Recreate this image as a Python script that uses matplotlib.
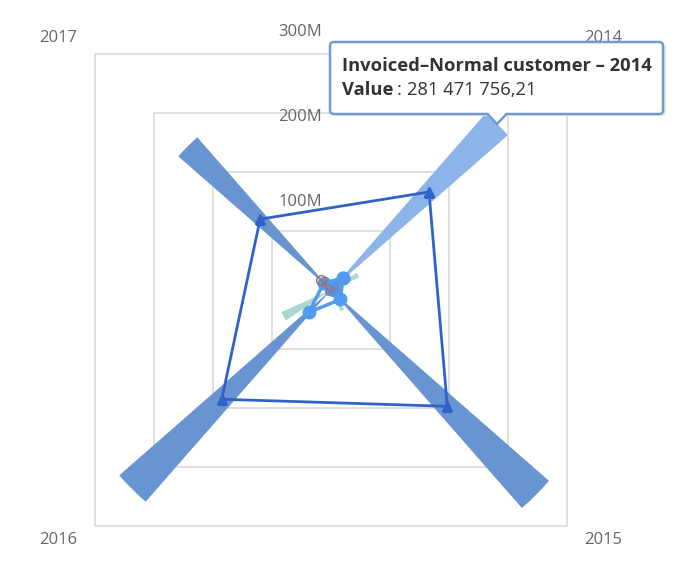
import numpy as np
import matplotlib
matplotlib.use("Agg")
import matplotlib.pyplot as plt
from matplotlib.patches import FancyBboxPatch, Polygon

# categories (clockwise from top-right)
years = ["2014", "2015", "2016", "2017"]
# values in millions
inv_normal = [281.47, 347.0, 337.0, 243.0]
line_dark = [166.0, 197.0, 185.0, 120.0]
col_teal = [37.0, 28.0, 65.0, 4.0]
line_light = [20.0, 16.0, 38.0, 12.0]
area_small = [15.0, 13.0, 8.0, 12.0]
line_red = [3.0, 3.0, 3.0, 17.0]
grid_levels = [100, 200, 300, 400]
axis_labels = ["100M", "200M", "300M"]

plt.rcParams['font.family'] = ['Open Sans', 'DejaVu Sans']

W, H = 684, 577
fig = plt.figure(figsize=(W / 100, H / 100), dpi=100)

# polar axes centred at pixel (331, 290), outer radius 334 px for 400M
cx, cy, R = 331, 290, 334
ax = fig.add_axes([(cx - R) / W, (H - cy - R) / H, 2 * R / W, 2 * R / H],
                  projection='polar')
ax.set_theta_zero_location('N')
ax.set_theta_direction(-1)
ax.set_ylim(0, 400)
ax.grid(False)
ax.set_xticks([])
ax.set_yticks([])
ax.spines['polar'].set_visible(False)
ax.patch.set_visible(False)

theta = np.deg2rad([45, 135, 225, 315])
closed = np.append(theta, theta[0])

# polygon grid
for lv in grid_levels:
    ax.plot(closed, [lv] * 5, color='#d9d9d9', lw=1.2, zorder=1, clip_on=False)

# column series (wedges)
wedge_w = np.deg2rad(7.6)
colors = ['#8db4ea', '#6894d2', '#6894d2', '#6894d2']
ax.bar(theta, inv_normal, width=wedge_w, color=colors, zorder=2, clip_on=False)
ax.bar(theta + np.deg2rad(16), col_teal, width=np.deg2rad(10), color='#a9d6cd',
       zorder=2.5)

# small series near centre
ax.fill(closed, np.append(area_small, area_small[0]), color='#5c90d8',
        zorder=3)
ax.plot(closed, np.append(line_dark, line_dark[0]), color='#2f63c8', lw=2,
        marker='^', markersize=7.5, zorder=4)
ax.plot(closed, np.append(line_light, line_light[0]), color='#4f9cf0', lw=2.5,
        marker='o', markersize=9, zorder=5)
ax.plot(closed, np.append(line_red, line_red[0]), color='#b8664f', lw=0.8,
        marker='o', markersize=7, markerfacecolor='none', markevery=[3],
        zorder=6)

# radial labels
for lv, lab, dy in zip(grid_levels, axis_labels, [5, 6, 7]):
    ax.annotate(lab, xy=(0, lv), xytext=(-31, dy), textcoords='offset pixels',
                ha='center', va='center', fontsize=12, color='#666666',
                annotation_clip=False)

# category labels
offs = [(36, 16), (36, -14), (-37, -14), (-37, 16)]
for t, lab, (ox, oy) in zip(theta, years, offs):
    ax.annotate(lab, xy=(t, 400), xytext=(ox, oy), textcoords='offset pixels',
                ha='center', va='center', fontsize=12, color='#666666',
                annotation_clip=False)

# tooltip overlay
ov = fig.add_axes([0, 0, 1, 1])
ov.set_xlim(0, W)
ov.set_ylim(H, 0)
ov.axis('off')
ov.patch.set_visible(False)
ov.add_patch(FancyBboxPatch((333, 44), 333, 72, boxstyle='round,pad=0,rounding_size=4',
                            facecolor='#e6e6e6', edgecolor='none', zorder=9))
ov.add_patch(FancyBboxPatch((330, 42), 333, 72, boxstyle='round,pad=0,rounding_size=4',
                            facecolor='white', edgecolor='#6f9bd4', lw=1.8, zorder=10))
ov.add_patch(Polygon([(487, 113.5), (497, 124), (507, 113.5)], closed=False,
                     facecolor='white', edgecolor='#6f9bd4', lw=1.8, zorder=10))
ov.add_patch(Polygon([(488, 112), (497, 121), (506, 112)], closed=True,
                     facecolor='white', edgecolor='none', zorder=11))
ov.text(342, 66, "Invoiced\u2013Normal customer \u2013 2014", fontsize=13.2,
        fontweight='bold', color='#333333', va='center', ha='left', zorder=12)
ov.text(342, 90, "Value", fontsize=13.2, fontweight='bold', color='#333333',
        va='center', ha='left', zorder=12)
ov.text(397, 90, ":", fontsize=13.2, color='#333333',
        va='center', ha='left', zorder=12)
ov.text(407, 90, "281 471 756,21", fontsize=13.2, color='#333333',
        va='center', ha='left', zorder=12)

fig.savefig("out.png", dpi=100)
